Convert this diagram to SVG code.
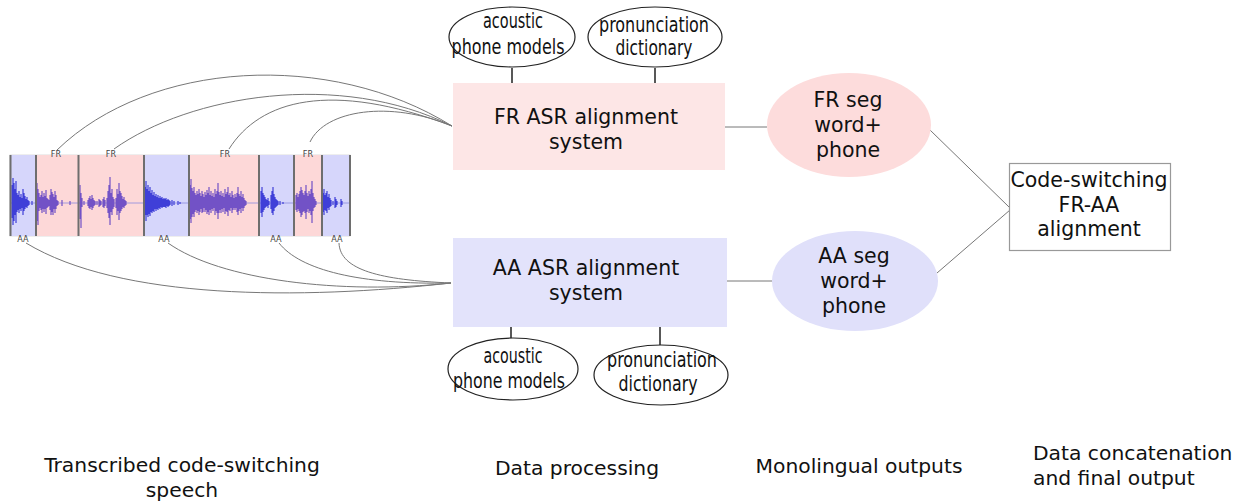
<svg xmlns="http://www.w3.org/2000/svg" width="1249" height="504" viewBox="0 0 1249 504">
<style>
.t{font-family:"DejaVu Sans","Liberation Sans",sans-serif;font-size:20.5px;fill:#111;text-anchor:middle}
.l{font-family:"DejaVu Sans","Liberation Sans",sans-serif;font-size:20.3px;fill:#111}
.c{font-family:"DejaVu Sans Condensed","DejaVu Sans",sans-serif;font-size:21.5px;fill:#111;text-anchor:middle}
.s{font-family:"DejaVu Sans Condensed","DejaVu Sans",sans-serif;font-size:9px;fill:#444;text-anchor:middle}
.e{fill:#fff;stroke:#222;stroke-width:1.2}
.cn{fill:none;stroke:#777;stroke-width:1}
.k{fill:none;stroke:#222;stroke-width:1.5}
.dv{stroke:#6e6e6e;stroke-width:2}
</style>
<rect width="1249" height="504" fill="#fff"/>
<g id="speech">
<rect x="10" y="155" width="340" height="81" fill="#fff" stroke="#ddd" stroke-width="1"/>
<rect x="10" y="155" width="26" height="81" fill="#d6d6fb"/>
<rect x="36" y="155" width="42" height="81" fill="#fdd8d8"/>
<rect x="78" y="155" width="66" height="81" fill="#fdd8d8"/>
<rect x="144" y="155" width="45" height="81" fill="#d6d6fb"/>
<rect x="189" y="155" width="70" height="81" fill="#fdd8d8"/>
<rect x="259" y="155" width="35" height="81" fill="#d6d6fb"/>
<rect x="294" y="155" width="28" height="81" fill="#fdd8d8"/>
<rect x="322" y="155" width="28" height="81" fill="#d6d6fb"/>
<line x1="10" y1="203" x2="350" y2="203" stroke="#8a8ae0" stroke-width="0.8"/>
<path stroke="#3f3fd8" stroke-width="1.2" fill="none" d="M12 185V218 M13 178V225 M14 183V221 M15 189V215 M16 181V223 M17 193V212 M18 195V210 M19 191V213 M20 197V209 M21 194V211 M22 198V208 M23 189V215 M24 193V211 M25 196V209 M26 199V207 M27 197V208 M28 200V206 M29 201V205 M32 201V205 M145 187V215 M146 181V221 M147 189V215 M148 185V217 M149 191V214 M150 187V216 M151 193V212 M152 190V213 M153 195V211 M154 192V212 M155 196V209 M156 194V211 M157 197V209 M158 195V210 M159 198V208 M160 196V209 M161 198V207 M162 197V208 M163 199V207 M164 198V207 M165 199V207 M166 198V208 M167 200V206 M168 199V207 M169 200V206 M170 201V205 M172 200V206 M174 201V205 M178 201V205 M180 202V204 M261 191V213 M262 187V217 M263 193V212 M264 195V210 M265 197V208 M266 199V207 M267 200V206 M268 198V208 M269 201V205 M271 195V209 M272 191V213 M273 187V215 M274 194V211 M275 197V208 M276 199V207 M277 200V206 M278 201V205 M280 201V205 M283 202V204 M323 193V212 M324 189V215 M325 195V210 M326 193V211 M327 191V213 M328 197V208 M329 194V210 M330 198V207 M331 200V206 M333 201V205 M335 197V208 M336 199V207 M337 201V205 M341 199V207 M342 201V205"/>
<path stroke="#7252c6" stroke-width="1.2" fill="none" d="M37 183V221 M38 189V225 M39 193V211 M40 197V208 M41 195V210 M42 191V213 M43 197V209 M44 193V212 M45 196V209 M46 190V214 M47 198V208 M48 199V207 M49 200V206 M50 195V210 M51 189V215 M52 192V212 M53 194V215 M54 197V209 M55 191V213 M56 195V209 M57 200V206 M58 201V205 M62 200V206 M70 201V205 M80 185V219 M81 193V228 M82 198V207 M84 201V205 M88 200V206 M89 198V208 M90 196V209 M91 199V207 M92 195V210 M93 198V208 M94 200V206 M95 201V205 M97 201V205 M99 199V207 M100 200V206 M101 201V205 M103 199V207 M104 197V208 M105 200V206 M107 198V208 M108 191V213 M109 185V218 M110 177V225 M111 193V212 M112 189V215 M113 197V209 M114 199V207 M116 198V208 M117 189V215 M118 194V211 M119 183V220 M120 191V213 M121 193V211 M122 196V209 M123 199V207 M124 197V208 M125 200V206 M126 201V205 M190 185V219 M191 179V223 M192 188V217 M193 191V214 M194 187V217 M195 193V212 M196 195V210 M197 191V213 M198 194V211 M199 189V215 M200 193V212 M201 196V209 M202 191V213 M203 194V212 M204 197V208 M205 192V212 M206 195V210 M207 190V214 M208 193V212 M209 187V215 M210 195V210 M211 191V213 M212 196V209 M213 193V211 M214 197V208 M215 189V215 M216 194V211 M217 191V213 M218 183V219 M219 192V213 M220 195V210 M221 191V213 M222 196V209 M223 193V212 M224 197V208 M225 189V214 M226 194V211 M227 192V212 M228 187V216 M229 195V210 M230 193V211 M231 197V208 M232 191V213 M233 195V210 M234 198V208 M235 194V210 M236 197V208 M237 193V212 M238 187V215 M239 194V211 M240 196V209 M241 191V213 M242 197V208 M243 194V211 M244 198V208 M245 200V206 M246 201V205 M296 195V210 M297 193V212 M298 197V209 M299 194V211 M300 191V213 M301 187V217 M302 190V215 M303 193V212 M304 195V211 M305 191V213 M306 185V219 M307 193V212 M308 196V209 M309 191V213 M310 194V211 M311 189V215 M312 181V223 M313 193V211 M314 197V208 M315 199V207 M316 201V205"/>
<path class="dv" d="M10.5 155V236 M36 155V236 M78.5 155V236 M144 155V236 M189 155V236 M259 155V236 M294 155V236 M322 155V236 M350 155V236"/>
<text class="s" x="56" y="157">FR</text>
<text class="s" x="111" y="157">FR</text>
<text class="s" x="225" y="157">FR</text>
<text class="s" x="308" y="157">FR</text>
<text class="s" x="23" y="242">AA</text>
<text class="s" x="164" y="242">AA</text>
<text class="s" x="276" y="242">AA</text>
<text class="s" x="337" y="242">AA</text>
</g>
<g id="connectors">
<path class="cn" d="M57 150C150 60 330 50 452 126"/>
<path class="cn" d="M114 149C190 95 340 70 452 126"/>
<path class="cn" d="M229 149C260 100 330 80 452 126"/>
<path class="cn" d="M310 142C325 110 390 100 452 126"/>
<path class="cn" d="M26 243C120 300 300 300 451 283"/>
<path class="cn" d="M168 243C220 280 340 295 451 283"/>
<path class="cn" d="M279 243C300 270 360 285 451 283"/>
<path class="cn" d="M339 243C340 270 380 280 451 283"/>
<path class="k" d="M512 68V83 M655 68V83 M511 327V338 M660 327V345"/>
<path class="cn" d="M725 127H767 M727 281H772 M930 130L1009 207 M937 273L1010 210"/>
</g>
<g id="fr-asr">
<rect x="453" y="83" width="272" height="87" fill="#fde6e6"/>
<text class="t" x="586" y="124">FR ASR alignment</text>
<text class="t" x="586" y="149">system</text>
</g>
<g id="aa-asr">
<rect x="453" y="238" width="274" height="89" fill="#e3e3fb"/>
<text class="t" x="586" y="275">AA ASR alignment</text>
<text class="t" x="586" y="300">system</text>
</g>
<g id="fr-acoustic">
<ellipse class="e" cx="512" cy="37" rx="63" ry="30"/>
<text class="c" x="513" y="28" textLength="60" lengthAdjust="spacingAndGlyphs">acoustic</text>
<text class="c" x="508" y="54" textLength="113" lengthAdjust="spacingAndGlyphs">phone models</text>
</g>
<g id="fr-dict">
<ellipse class="e" cx="655" cy="37" rx="67" ry="30"/>
<text class="c" x="654" y="32" textLength="110" lengthAdjust="spacingAndGlyphs">pronunciation</text>
<text class="c" x="654" y="55" textLength="77" lengthAdjust="spacingAndGlyphs">dictionary</text>
</g>
<g id="aa-acoustic">
<ellipse class="e" cx="513" cy="369" rx="65" ry="31"/>
<text class="c" x="513" y="363" textLength="59" lengthAdjust="spacingAndGlyphs">acoustic</text>
<text class="c" x="509" y="388" textLength="112" lengthAdjust="spacingAndGlyphs">phone models</text>
</g>
<g id="aa-dict">
<ellipse class="e" cx="661" cy="375" rx="67" ry="30"/>
<text class="c" x="662" y="367" textLength="110" lengthAdjust="spacingAndGlyphs">pronunciation</text>
<text class="c" x="658" y="391" textLength="79" lengthAdjust="spacingAndGlyphs">dictionary</text>
</g>
<g id="fr-seg">
<ellipse cx="849" cy="125" rx="82" ry="52" fill="#fddcdc"/>
<text class="t" x="848" y="107">FR seg</text>
<text class="t" x="848" y="132">word+</text>
<text class="t" x="848" y="157">phone</text>
</g>
<g id="aa-seg">
<ellipse cx="855" cy="281" rx="83" ry="50" fill="#e0e0fa"/>
<text class="t" x="854" y="263">AA seg</text>
<text class="t" x="854" y="288">word+</text>
<text class="t" x="854" y="313">phone</text>
</g>
<g id="output">
<rect x="1009.5" y="163.5" width="161" height="87" fill="#fff" stroke="#999" stroke-width="1.2"/>
<text class="t" x="1089" y="187">Code-switching</text>
<text class="t" x="1089" y="212">FR-AA</text>
<text class="t" x="1089" y="236">alignment</text>
</g>
<g id="labels">
<text class="l" x="182" y="472" text-anchor="middle">Transcribed code-switching</text>
<text class="l" x="182" y="497" text-anchor="middle">speech</text>
<text class="l" x="577" y="475" text-anchor="middle">Data processing</text>
<text class="l" x="859" y="473" text-anchor="middle">Monolingual outputs</text>
<text class="l" x="1033" y="460">Data concatenation</text>
<text class="l" x="1033" y="485">and final output</text>
</g>
</svg>
